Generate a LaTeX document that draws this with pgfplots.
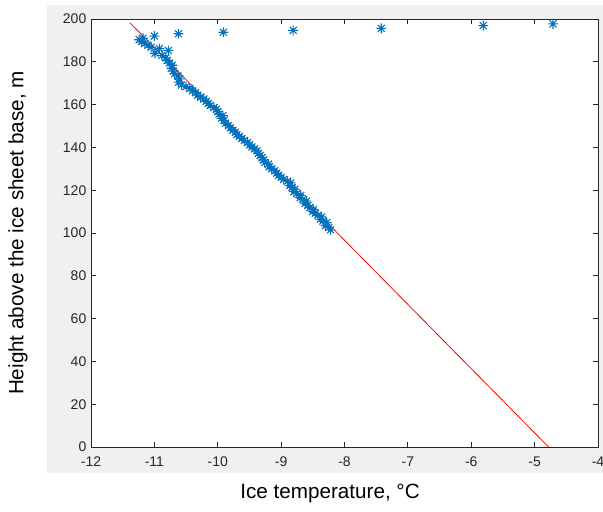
\documentclass[border=0pt]{standalone}
\usepackage{pgfplots}
\pgfplotsset{compat=1.18}
\usepackage{fontspec}
\setmainfont{Liberation Sans}
\definecolor{mblue}{HTML}{0072BD}
\definecolor{mgray}{HTML}{262626}
\definecolor{figbg}{HTML}{F0F0F0}
\pgfdeclareplotmark{mstar}{%
  \pgfpathmoveto{\pgfqpoint{-\pgfplotmarksize}{0pt}}\pgfpathlineto{\pgfqpoint{\pgfplotmarksize}{0pt}}%
  \pgfpathmoveto{\pgfqpoint{0pt}{-\pgfplotmarksize}}\pgfpathlineto{\pgfqpoint{0pt}{\pgfplotmarksize}}%
  \pgfpathmoveto{\pgfqpoint{-0.7071\pgfplotmarksize}{-0.7071\pgfplotmarksize}}\pgfpathlineto{\pgfqpoint{0.7071\pgfplotmarksize}{0.7071\pgfplotmarksize}}%
  \pgfpathmoveto{\pgfqpoint{-0.7071\pgfplotmarksize}{0.7071\pgfplotmarksize}}\pgfpathlineto{\pgfqpoint{0.7071\pgfplotmarksize}{-0.7071\pgfplotmarksize}}%
  \pgfusepathqstroke}
\pgfplotstableread{
x y
-8.22 101.5
-8.25 102.6
-8.30 103.5
-8.28 104.8
-8.34 105.6
-8.38 106.4
-8.36 107.5
-8.42 108.3
-8.46 109.2
-8.50 110.1
-8.49 111.0
-8.55 111.9
-8.58 112.8
-8.62 113.8
-8.60 114.9
-8.66 115.6
-8.70 116.5
-8.69 117.6
-8.75 118.4
-8.80 119.3
-8.78 120.5
-8.83 121.3
-8.86 122.2
-8.85 123.4
-8.90 124.2
-8.96 125.0
-9.00 126.0
-9.04 127.0
-9.07 128.0
-9.10 129.1
-9.15 130.0
-9.19 131.0
-9.20 132.2
-9.26 133.0
-9.28 134.1
-9.30 135.2
-9.33 136.3
-9.36 137.2
-9.38 138.4
-9.42 139.3
-9.46 140.2
-9.50 141.2
-9.53 142.3
-9.58 143.2
-9.62 144.2
-9.66 145.1
-9.70 146.0
-9.72 147.1
-9.76 148.0
-9.80 149.2
-9.83 150.2
-9.88 151.3
-9.90 152.6
-9.94 153.6
-9.92 154.8
-9.98 155.6
-10.00 156.7
-10.02 157.8
-10.06 158.6
-10.12 159.6
-10.15 160.6
-10.18 161.5
-10.22 162.6
-10.27 163.5
-10.32 164.4
-10.35 165.5
-10.40 166.5
-10.44 167.5
-10.50 168.4
-10.57 169.2
-10.62 170.5
-10.60 172.0
-10.63 173.4
-10.68 174.5
-10.70 175.6
-10.73 177.0
-10.72 178.4
-10.76 179.4
-10.80 180.6
-10.82 181.8
-10.88 183.0
-10.78 185.3
-10.92 186.2
-10.99 184.0
-11.05 186.8
-11.10 187.8
-11.15 188.6
-11.20 189.5
-11.24 190.3
-11.18 191.0
-11.00 192.0
-10.62 193.1
-9.91 193.8
-8.81 194.7
-7.42 195.6
-5.81 196.9
-4.71 197.7
}\datatab
\begin{document}
\begin{tikzpicture}
\useasboundingbox (0,0) rectangle (452.25pt,383.25pt);
\fill[figbg] (35.25pt,28.5pt) rectangle (452.25pt,379.5pt);
\begin{axis}[
  at={(68.25pt,48pt)}, anchor=south west,
  scale only axis, width=380.25pt, height=321pt,
  xmin=-12, xmax=-4, ymin=0, ymax=200,
  xtick={-12,-11,-10,-9,-8,-7,-6,-5,-4},
  xticklabels={-12,-11,-10,-9,-8,-7,-6,-5,-4},
  ytick={0,20,40,60,80,100,120,140,160,180,200},
  yticklabels={0,20,40,60,80,100,120,140,160,180,200},
  tick align=inside, tick pos=both,
  major tick length=3.75pt,
  axis line style={mgray, line width=0.6pt},
  every tick/.style={mgray, line width=0.6pt},
  tick label style={font=\fontsize{10.5}{12}\selectfont, text=mgray},
  xticklabel style={yshift=-4pt},
  axis background/.style={fill=white},
  clip=true,
]
\addplot[only marks, mark=mstar, mark size=3.7pt, mark options={mblue, line width=0.8pt}] table[x=x,y=y] {\datatab};
\addplot[red, line width=0.6pt] coordinates {(-11.385,198.2) (-4.78,0)};
\end{axis}
\node[font=\fontsize{15.5}{18}\selectfont, text=black] at (247.5pt,13.5pt) {Ice temperature, °C};
\node[font=\fontsize{15.5}{18}\selectfont, text=black, rotate=90] at (13.5pt,208.5pt) {Height above the ice sheet base, m};
\end{tikzpicture}
\end{document}
